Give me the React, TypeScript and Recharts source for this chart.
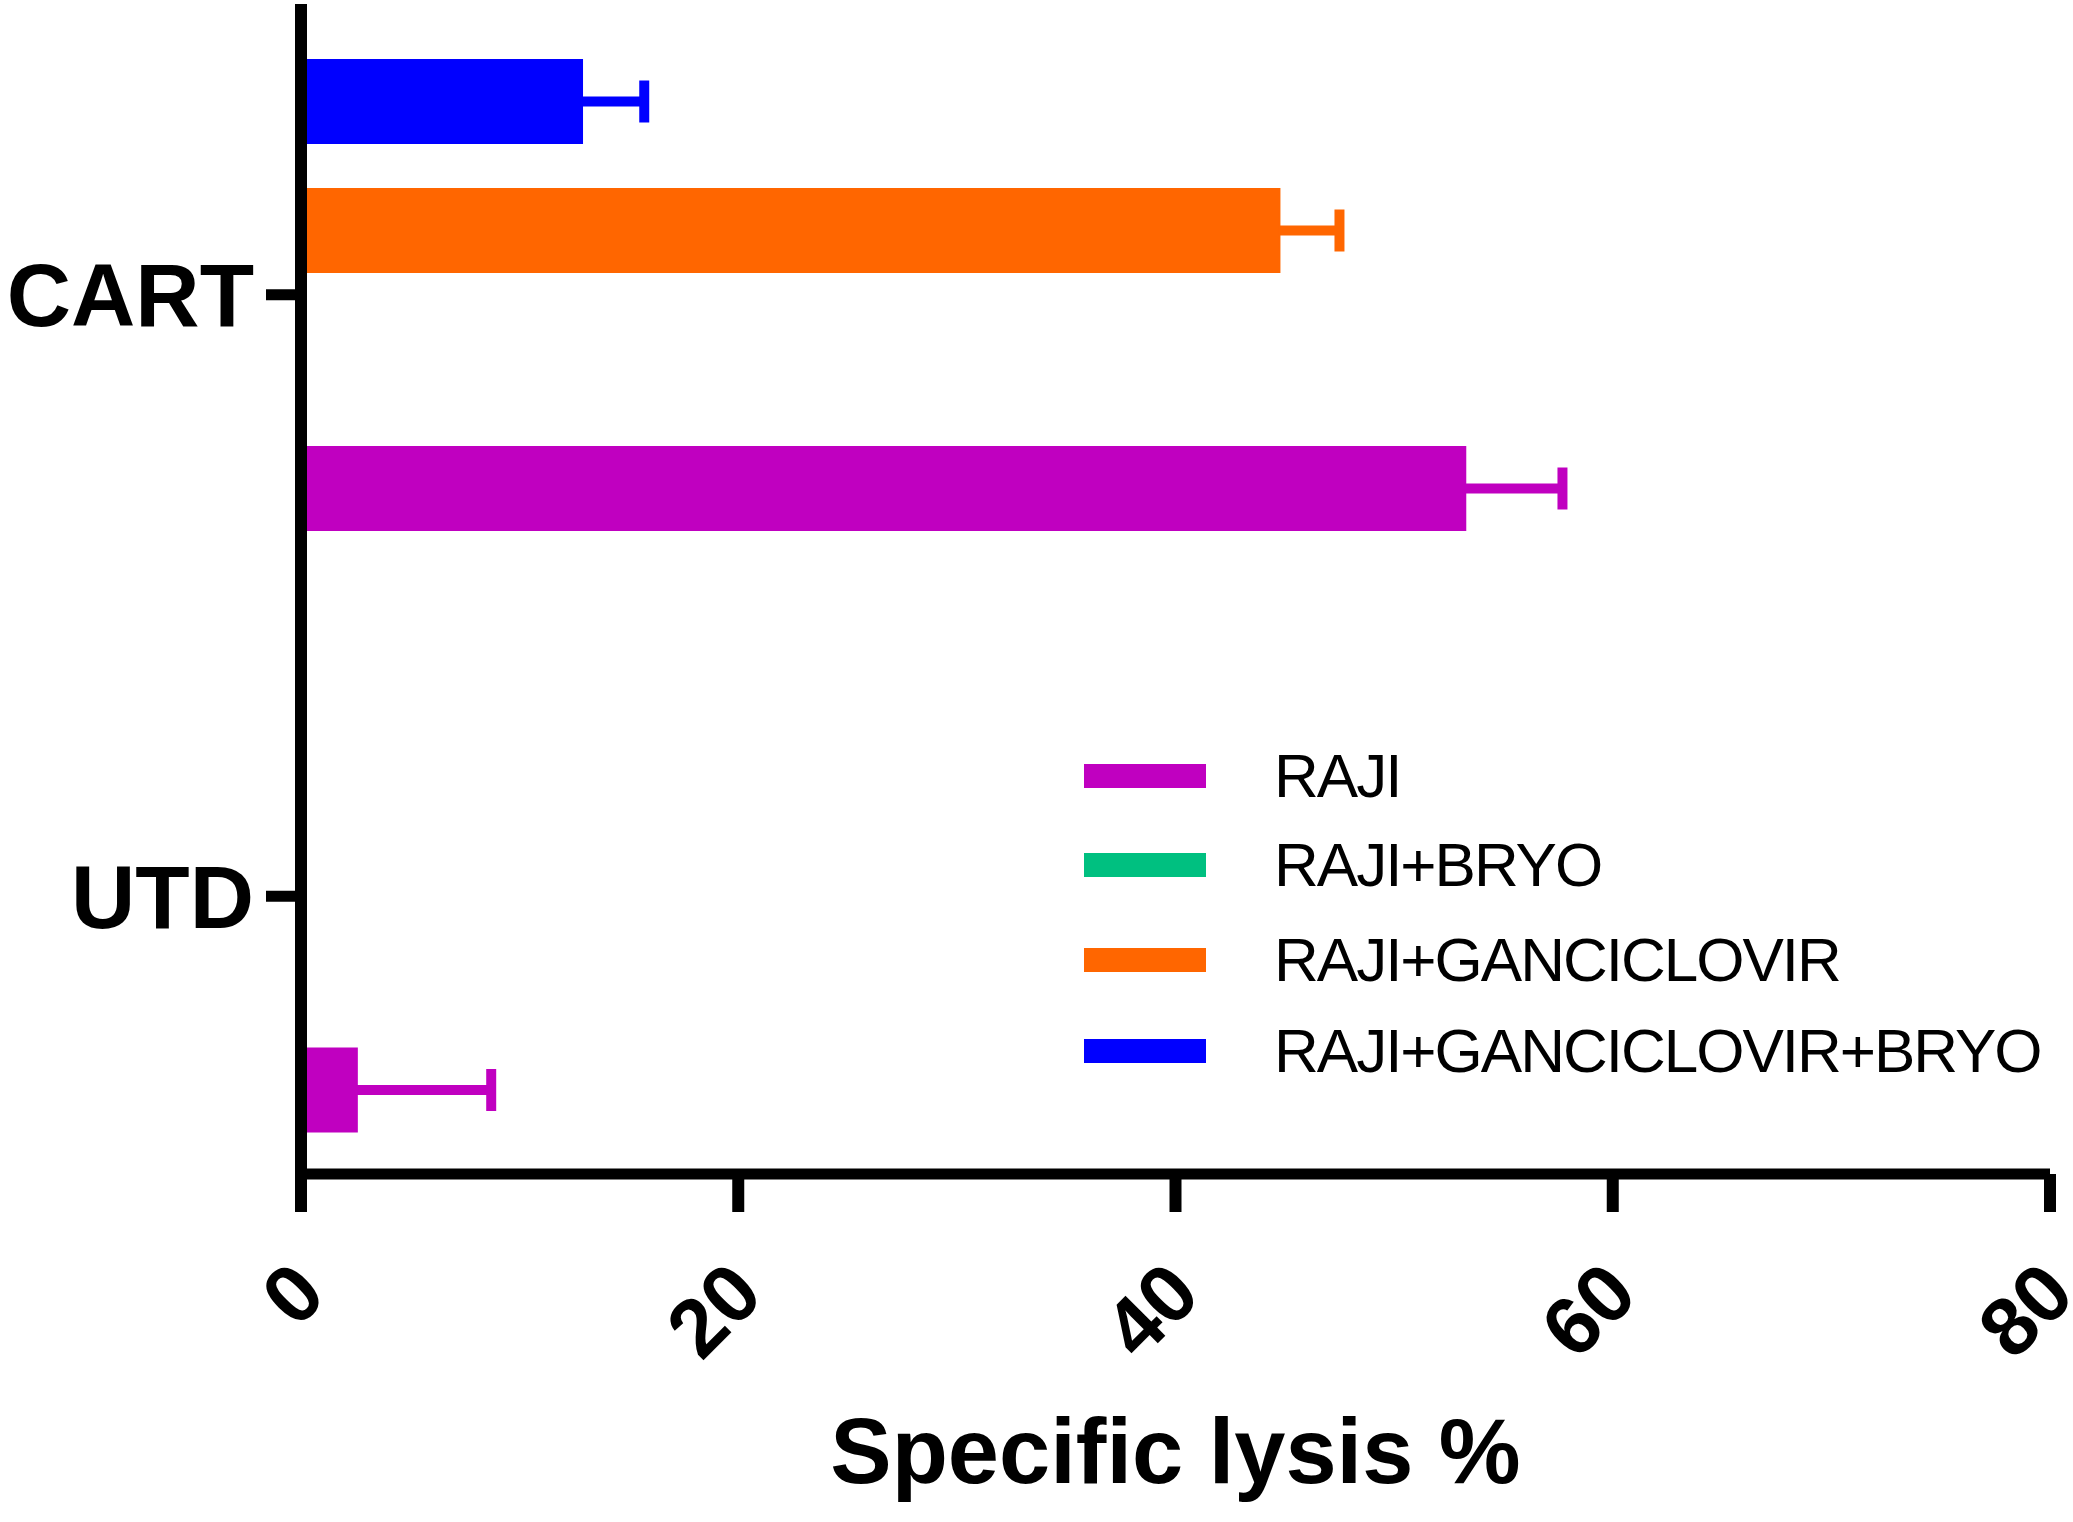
import { BarChart, Bar, XAxis, YAxis, ErrorBar, Legend, Label } from "recharts";

const categories = ["CART", "UTD"];

// specific lysis % (mean) and SD
const raji = [53.3, 2.6];
const rajiSd = [4.4, 6.1];
const rajiBryo = [null, null];
const rajiBryoSd = [null, null];
const rajiGcv = [44.8, null];
const rajiGcvSd = [2.7, null];
const rajiGcvBryo = [12.9, null];
const rajiGcvBryoSd = [2.8, null];

const xTicks = [0, 20, 40, 60, 80];

const FONT = "'Liberation Sans', Arial, sans-serif";
// keeps the lower error cap hidden inside the bar (Prism draws only the upper side)
const CAP_INSET = 0.3;

const series = [
  { key: "rajiGcvBryo", name: "RAJI+GANCICLOVIR+BRYO", color: "#0000FF", values: rajiGcvBryo, sd: rajiGcvBryoSd },
  { key: "rajiGcv", name: "RAJI+GANCICLOVIR", color: "#FF6600", values: rajiGcv, sd: rajiGcvSd },
  { key: "rajiBryo", name: "RAJI+BRYO", color: "#00C080", values: rajiBryo, sd: rajiBryoSd },
  { key: "raji", name: "RAJI", color: "#C000C0", values: raji, sd: rajiSd },
];

const legendOrder = ["raji", "rajiBryo", "rajiGcv", "rajiGcvBryo"];
const legendRowCenters = [776, 865, 960, 1051];
const LEGEND_TOP = 720;

const data = categories.map((name, i) => {
  const row: Record<string, any> = { name };
  series.forEach((s) => {
    row[s.key] = s.values[i];
    row[s.key + "Err"] = s.sd[i] == null ? null : [CAP_INSET, s.sd[i]];
  });
  return row;
});

const XTick = (props: any) => {
  const { payload } = props;
  const x = props.x + 7;
  const y = props.y + 5;
  return (
    <text
      x={x}
      y={y}
      dy="0.36em"
      textAnchor="end"
      transform={`rotate(-45 ${x} ${y})`}
      fontSize={82}
      fontWeight={700}
      fontFamily={FONT}
      fill="#000"
    >
      {payload.value}
    </text>
  );
};

const LegendBox = () => (
  <div style={{ position: "relative", width: 990, height: 380 }}>
    {legendOrder.map((k, i) => {
      const s = series.find((d) => d.key === k)!;
      return (
        <div
          key={k}
          style={{
            position: "absolute",
            left: 0,
            top: legendRowCenters[i] - LEGEND_TOP - 45,
            height: 90,
            display: "flex",
            alignItems: "center",
          }}
        >
          <div style={{ width: 122, height: 24, background: s.color }} />
          <span
            style={{
              marginLeft: 68,
              fontFamily: FONT,
              fontSize: 62,
              lineHeight: 1,
              letterSpacing: -2,
              color: "#000",
              whiteSpace: "nowrap",
            }}
          >
            {s.name}
          </span>
        </div>
      );
    })}
  </div>
);

export default function App() {
  return (
    <div style={{ position: "absolute", left: 0, top: 0, background: "#fff" }}>
      <BarChart
        width={2073}
        height={1522}
        data={data}
        layout="vertical"
        margin={{ top: 4, right: 23, bottom: 0, left: 0 }}
        barSize={85}
        barGap={44}
      >
        {series.map((s) => (
          <Bar key={s.key} dataKey={s.key} name={s.name} fill={s.color} isAnimationActive={false}>
            <ErrorBar
              dataKey={s.key + "Err"}
              direction="x"
              width={21}
              stroke={s.color}
              strokeWidth={10}
              isAnimationActive={false}
            />
          </Bar>
        ))}
        <Legend
          layout="vertical"
          align="center"
          verticalAlign="middle"
          content={() => <LegendBox />}
          wrapperStyle={{ left: 1084, top: LEGEND_TOP, width: 990, height: 380 }}
        />
        <XAxis
          type="number"
          domain={[0, 80]}
          ticks={xTicks}
          interval={0}
          height={348}
          tickSize={38}
          tickMargin={60}
          axisLine={{ stroke: "#000", strokeWidth: 11 }}
          tickLine={{ stroke: "#000", strokeWidth: 12 }}
          tick={<XTick />}
        >
          <Label
            value="Specific lysis %"
            position="insideBottom"
            offset={39}
            style={{ fontSize: 92, fontWeight: 700, fill: "#000", fontFamily: FONT }}
          />
        </XAxis>
        <YAxis
          type="category"
          dataKey="name"
          width={301}
          padding={{ top: -10, bottom: -23 }}
          tickSize={35}
          tickMargin={12}
          axisLine={{ stroke: "#000", strokeWidth: 12 }}
          tickLine={{ stroke: "#000", strokeWidth: 11 }}
          tick={{ fontSize: 89, fontWeight: 700, fill: "#000", fontFamily: FONT }}
        />
      </BarChart>
    </div>
  );
}
